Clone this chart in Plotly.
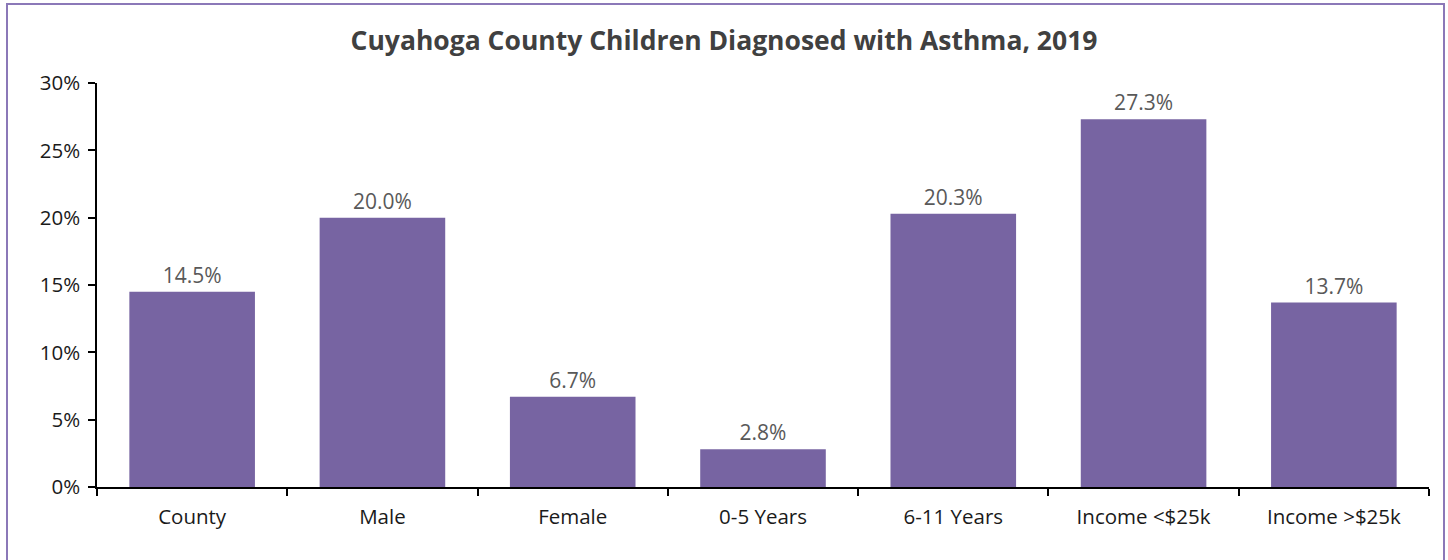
import plotly.graph_objects as go

categories = ["County", "Male", "Female", "0-5 Years", "6-11 Years", "Income <$25k", "Income >$25k"]
values = [0.145, 0.200, 0.067, 0.028, 0.203, 0.273, 0.137]
labels = ["14.5%", "20.0%", "6.7%", "2.8%", "20.3%", "27.3%", "13.7%"]
title = "Cuyahoga County Children Diagnosed with Asthma, 2019"

FONT = "Open Sans"
L, R, T, B = 97, 19, 83, 73
W, H = 1448, 560
pw, ph = W - L - R, H - T - B

fig = go.Figure(go.Bar(
    x=categories, y=values, text=labels, textposition="outside",
    marker=dict(color="#7764A2", line=dict(width=0)),
    width=0.66, cliponaxis=False,
    textfont=dict(family=FONT, size=21, color="#595959"),
))

def px_x(p):
    return (p - L) / pw

def px_y(p):
    return (H - B - p) / ph

fig.update_layout(
    width=W, height=H,
    margin=dict(l=L, r=R, t=T, b=B),
    paper_bgcolor="white", plot_bgcolor="white",
    showlegend=False,
    title=dict(text="<b>" + title + "</b>", x=0.5, xanchor="center", y=1 - 41 / H, yanchor="middle",
               font=dict(family=FONT, size=26.5, color="#404040")),
    xaxis=dict(showline=True, linecolor="#000000", linewidth=1.5, ticks="outside", tickson="boundaries",
               ticklen=7, tickcolor="#000000", tickwidth=1.5, ticklabelstandoff=11,
               tickfont=dict(family=FONT, size=20.5, color="#1a1a1a"), showgrid=False),
    yaxis=dict(range=[0, 0.30], dtick=0.05, tickformat=".0%", showline=True, linecolor="#000000",
               linewidth=1.5, ticks="outside", ticklen=7, tickcolor="#000000", tickwidth=1.5,
               ticklabelstandoff=4,
               tickfont=dict(family=FONT, size=20.5, color="#1a1a1a"), showgrid=False, zeroline=False),
    shapes=[dict(type="rect", xref="paper", yref="paper",
                 x0=px_x(7), x1=px_x(1444), y0=px_y(600), y1=px_y(4),
                 line=dict(color="#8B78B8", width=2), fillcolor="rgba(0,0,0,0)", layer="below")],
)

fig.write_html("out.html", config={"displayModeBar": False},
               post_script="document.body.style.margin='0';document.body.style.overflow='hidden';")
